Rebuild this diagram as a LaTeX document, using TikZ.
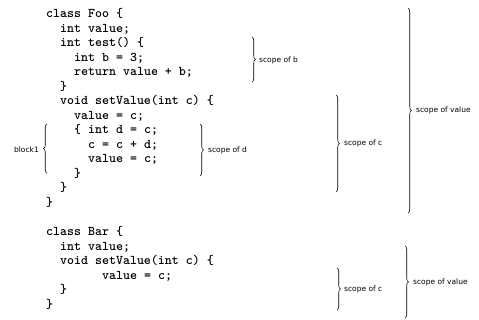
\documentclass[tikz,border=0pt]{standalone}
\usepackage{fontspec}
\newfontfamily\labfont{DejaVu Sans}
\usetikzlibrary{decorations.pathreplacing}
\tikzset{
  code/.style={anchor=base west, inner sep=0pt, font=\fontsize{13.3}{14}\ttfamily\bfseries},
  lab/.style={anchor=west, inner sep=0pt, font=\labfont\fontsize{7.5}{8}\selectfont},
  brc/.style={decorate, decoration={brace, amplitude=3.5pt}, line width=0.6pt}
}
\begin{document}
\begin{tikzpicture}[x=1pt,y=-1pt]
\useasboundingbox (0,0) rectangle (479,320);
% code lines (baseline)
\node[code] (l1)  at (46,18)    {class Foo \{};
\node[code] (l2)  at (60,32.5)  {int value;};
\node[code] (l3)  at (60,47)    {int test() \{};
\node[code] (l4)  at (74,61.5)  {int b = 3;};
\node[code] (l5)  at (74,76)    {return value + b;};
\node[code] (l6)  at (60,90.5)  {\}};
\node[code] (l7)  at (60,105)   {void setValue(int c) \{};
\node[code] (l8)  at (74,119.5) {value = c;};
\node[code] (l9)  at (74,134)   {\{ int d = c;};
\node[code] (l10) at (88,148.5) {c = c + d;};
\node[code] (l11) at (88,163)   {value = c;};
\node[code] (l12) at (74,177.5) {\}};
\node[code] (l13) at (60,192)   {\}};
\node[code] (l14) at (46,206.5) {\}};
\node[code] (m1)  at (46,236)   {class Bar \{};
\node[code] (m2)  at (60,250.5) {int value;};
\node[code] (m3)  at (60,265)   {void setValue(int c) \{};
\node[code] (m4)  at (102,279.5){value = c;};
\node[code] (m5)  at (60,294)   {\}};
\node[code] (m6)  at (46,308.5) {\}};
% braces
\draw[brc] (252,37) -- (252,82);
\node[lab] (sb) at (259,60) {scope of b};
\draw[brc] (200,124) -- (200,176);
\node[lab] (sd) at (208,150) {scope of d};
\draw[brc] (47,173) -- (47,124);
\node[lab, anchor=east] (b1) at (39,150) {block1};
\draw[brc] (336,95) -- (336,192);
\node[lab] (sc1) at (344,143.5) {scope of c};
\draw[brc] (408,8) -- (408,213);
\node[lab] (sv1) at (416,110.5) {scope of value};
\draw[brc] (337,268) -- (337,310);
\node[lab] (sc2) at (344,289) {scope of c};
\draw[brc] (405,246) -- (405,318);
\node[lab] (sv2) at (413,282) {scope of value};
\end{tikzpicture}
\end{document}
